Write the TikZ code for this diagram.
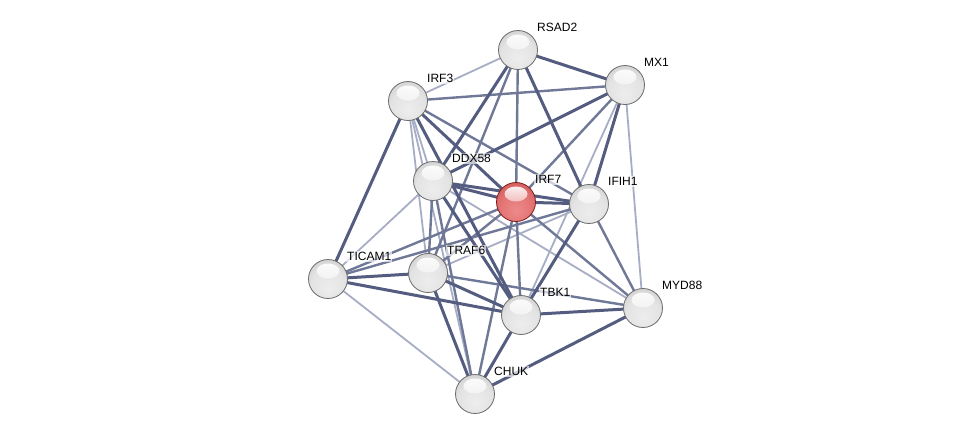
\documentclass[tikz,border=0pt]{standalone}
\usepackage{fontspec}
\setmainfont{Liberation Sans}
\usetikzlibrary{backgrounds,fadings}
\definecolor{ethickc}{RGB}{84,92,128}
\definecolor{emedc}{RGB}{112,120,152}
\definecolor{elightc}{RGB}{168,173,198}
\pgfdeclareradialshading{stringball}{\pgfpoint{0bp}{-12bp}}{color(0bp)=(black!7); color(22bp)=(black!11); color(36bp)=(black!20); color(48bp)=(black!32); color(58bp)=(black!46); color(66bp)=(black!52)}
\pgfdeclareradialshading{stringred}{\pgfpoint{0bp}{-12bp}}{color(0bp)=({rgb,255:red,238;green,138;blue,138}); color(22bp)=({rgb,255:red,226;green,114;blue,114}); color(36bp)=({rgb,255:red,206;green,86;blue,86}); color(48bp)=({rgb,255:red,186;green,64;blue,64}); color(58bp)=({rgb,255:red,160;green,44;blue,44}); color(66bp)=({rgb,255:red,145;green,36;blue,36})}
\tikzset{
  hilite/.style={path picture={\fill[white, path fading=south] ([yshift=8pt]path picture bounding box.center) ellipse [x radius=11.5pt, y radius=7.5pt];}},
  ball/.style={circle, minimum size=39pt, inner sep=0pt, shading=stringball, draw=black!58, line width=0.8pt, hilite},
  redball/.style={circle, minimum size=39pt, inner sep=0pt, shading=stringred, draw={rgb,255:red,125;green,28;blue,28}, line width=0.8pt, hilite},
  lbl/.style={anchor=west, inner sep=1pt, font=\fontsize{12}{14}\selectfont, text=black, fill=white, fill opacity=0.65, text opacity=1},
  ethick/.style={line width=3pt, draw=ethickc},
  emed/.style={line width=2.4pt, draw=emedc},
  elight/.style={line width=1.8pt, draw=elightc},
}
\newcommand{\gene}[5][ball]{%
  \node[#1] (#2) at (#3) {};
  \node[lbl] (#2l) at ([shift={(18,-22.5)}]#2.center) {#5};}
\begin{document}
\begin{tikzpicture}[x=1pt,y=-1pt]
\useasboundingbox (0,0) rectangle (975,439);
\gene{R}{518,50}{x}{RSAD2}
\gene{M}{625,85}{x}{MX1}
\gene{I3}{408,101}{x}{IRF3}
\gene{D}{433,181}{x}{DDX58}
\gene[redball]{I7}{516,202}{x}{IRF7}
\gene{F}{589,204}{x}{IFIH1}
\gene{TI}{328,279}{x}{TICAM1}
\gene{TR}{428,273}{x}{TRAF6}
\gene{TB}{521,315}{x}{TBK1}
\gene{MY}{643,308}{x}{MYD88}
\gene{C}{475,394}{x}{CHUK}
\begin{pgfonlayer}{background}
\fill[white] (0,0) rectangle (975,439);
% light
\draw[elight] (R.center) -- (I3.center);
\draw[elight] (M.center) -- (TB.center);
\draw[elight] (M.center) -- (MY.center);
\draw[elight] (I3.center) -- (D.center);
\draw[elight] (I3.center) -- (TR.center);
\draw[elight] (I3.center) -- (C.center);
\draw[elight] (D.center) -- (TI.center);
\draw[elight] (D.center) -- (MY.center);
\draw[elight] (F.center) -- (TR.center);
\draw[elight] (TI.center) -- (C.center);
% medium
\draw[emed] (R.center) -- (I7.center);
\draw[emed] (R.center) -- (TR.center);
\draw[emed] (M.center) -- (I3.center);
\draw[emed] (M.center) -- (I7.center);
\draw[emed] (I3.center) -- (F.center);
\draw[emed] (D.center) -- (TR.center);
\draw[emed] (D.center) -- (C.center);
\draw[emed] (I7.center) -- (TI.center);
\draw[emed] (I7.center) -- (TR.center);
\draw[emed] (I7.center) -- (TB.center);
\draw[emed] (I7.center) -- (MY.center);
\draw[emed] (I7.center) -- (C.center);
\draw[emed] (F.center) -- (TI.center);
\draw[emed] (F.center) -- (MY.center);
\draw[emed] (TR.center) -- (MY.center);
% thick
\draw[ethick] (R.center) -- (M.center);
\draw[ethick] (R.center) -- (D.center);
\draw[ethick] (R.center) -- (F.center);
\draw[ethick] (M.center) -- (D.center);
\draw[ethick] (M.center) -- (F.center);
\draw[ethick] (I3.center) -- (I7.center);
\draw[ethick] (I3.center) -- (TI.center);
\draw[ethick] (I3.center) -- (TB.center);
\draw[ethick] (D.center) -- (I7.center);
\draw[ethick] (D.center) -- (F.center);
\draw[ethick] (D.center) -- (TB.center);
\draw[ethick] (I7.center) -- (F.center);
\draw[ethick] (F.center) -- (TB.center);
\draw[ethick] (TI.center) -- (TR.center);
\draw[ethick] (TI.center) -- (TB.center);
\draw[ethick] (TR.center) -- (TB.center);
\draw[ethick] (TR.center) -- (C.center);
\draw[ethick] (TB.center) -- (MY.center);
\draw[ethick] (TB.center) -- (C.center);
\draw[ethick] (MY.center) -- (C.center);
\end{pgfonlayer}
\end{tikzpicture}
\end{document}
